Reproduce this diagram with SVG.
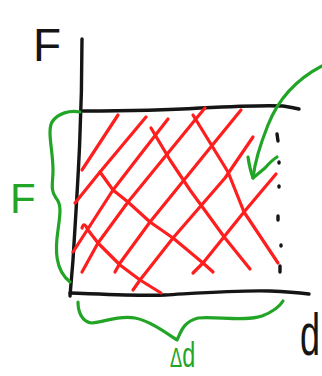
<svg xmlns="http://www.w3.org/2000/svg" width="322" height="376" viewBox="0 0 322 376">
<style>
.k{fill:none;stroke:#151515;stroke-width:3.4;stroke-linecap:round;stroke-linejoin:round}
.r{fill:none;stroke:#ff1e1e;stroke-width:3.2;stroke-linecap:round;stroke-linejoin:round}
.g{fill:none;stroke:#22a526;stroke-width:3.2;stroke-linecap:round;stroke-linejoin:round}
.tk{font-family:"Liberation Sans",Arial,sans-serif;fill:#151515}
.tg{font-family:"Liberation Sans",Arial,sans-serif;fill:#22a526}
</style>
<rect width="322" height="376" fill="#fff"/>
<g id="axes">
<path class="k" d="M82,39 C82,120 78,180 73,260 L70,296"/>
<path class="k" d="M70,293 C100,294 140,296 165,295 C200,293 240,290 270,291 C290,292 300,293 309,294"/>
</g>
<g id="box-top">
<path class="k" d="M83,111 C130,111 170,110 200,108 C240,106 265,105 283,106 C290,107 295,108 299,109"/>
</g>
<g id="dots">
<path class="k" d="M277,134 L278,141 M279,162 L279,163 M279,186 L279,187 M278,216 L278,220 M281,245 L281,246 M280,266 L280,272"/>
</g>
<g id="hatch">
<path class="r" d="M118,115 L82,170"/>
<path class="r" d="M146,117 L100,172 L75,203"/>
<path class="r" d="M168,119 L140,155 L113,190 L73,252"/>
<path class="r" d="M205,108 L195,120 L128,202 L98,243 L82,272"/>
<path class="r" d="M241,110 L210,148 L150,222 L120,263 L115,272"/>
<path class="r" d="M253,137 L225,178 L173,238 L140,280 L133,290"/>
<path class="r" d="M276,174 L244,212 L203,263 L193,273"/>
<path class="r" d="M151,128 L170,160 L190,190 L225,238 L250,269"/>
<path class="r" d="M193,115 L228,172 L244,212 L278,263"/>
<path class="r" d="M100,172 L113,190 L128,202 L150,222 L173,238 L203,263 L213,272"/>
<path class="r" d="M82,228 Q84,221 88,230 L98,243 L120,265 L140,280 L161,293"/>
</g>
<g id="brace-left">
<path class="g" d="M80,112 C70,110 58,113 52,122 C47,132 53,150 53,170 C53,183 50,190 56,198 C62,205 60,215 58,230 C55,250 55,270 70,282"/>
</g>
<g id="brace-bottom">
<path class="g" d="M78,302 C78,312 82,322 92,323 C105,322 118,315 135,318 C150,321 165,332 177,340 C181,332 183,322 198,318 C215,316 245,322 262,316 C275,311 280,306 283,301"/>
</g>
<g id="arrow">
<path class="g" d="M322,66 C295,80 278,100 268,125 C260,145 255,160 253,178"/>
<path class="g" d="M248,157 Q250,170 253,178 L265,168 Q272,160 277,157"/>
</g>
<g id="labels">
<text class="tk" x="33" y="61" font-size="46">F</text>
<text class="tg" x="10" y="213" font-size="42">F</text>
<text class="tk" transform="translate(300,355) scale(0.6,1)" font-size="60">d</text>
<text class="tg" transform="translate(170,367) scale(0.65,1)" font-size="28">Δ<tspan font-size="36">d</tspan></text>
</g>
</svg>
